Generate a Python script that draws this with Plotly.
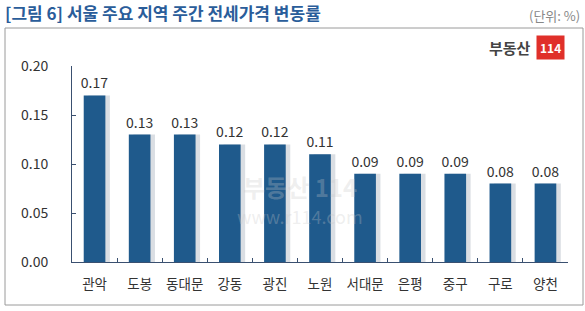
import plotly.graph_objects as go

categories = ["관악", "도봉", "동대문", "강동", "광진", "노원", "서대문", "은평", "중구", "구로", "양천"]
values = [0.17, 0.13, 0.13, 0.12, 0.12, 0.11, 0.09, 0.09, 0.09, 0.08, 0.08]
ytick_vals = [0.0, 0.05, 0.10, 0.15, 0.20]
ytick_text = ["0.00", "0.05", "0.10", "0.15", "0.20"]

FONT = "Noto Sans CJK KR, Noto Sans, sans-serif"
BAR = "#1f5a8c"

fig = go.Figure()
# soft shadow behind bars
fig.add_trace(go.Bar(
    x=categories, y=values,
    marker=dict(color="rgba(150,160,175,0.35)", line=dict(width=0)),
    width=0.48, offset=-0.24 + 0.1,
    hoverinfo="skip",
))
fig.add_trace(go.Bar(
    x=categories, y=values,
    marker=dict(color=BAR, line=dict(width=0)),
    width=0.48, offset=-0.24,
    text=[f"{v:.2f}" for v in values],
    textposition="outside",
    constraintext="none",
    textfont=dict(size=14, color="#333333", family=FONT),
    cliponaxis=False,
))

L, R, T, B = 72, 17, 66, 49
W, H = 585, 311
pw, ph = W - L - R, H - T - B

def px(x):
    return (x - L) / pw

def py(y):
    return (H - B - y) / ph

fig.update_layout(
    width=W, height=H,
    margin=dict(l=L, r=R, t=T, b=B, autoexpand=False),
    paper_bgcolor="white", plot_bgcolor="white",
    showlegend=False,
    barmode="overlay",
    font=dict(family=FONT, color="#333333"),
)
fig.update_yaxes(
    range=[0, 0.2], tickvals=ytick_vals, ticktext=ytick_text,
    showgrid=False, zeroline=False,
    showline=True, linecolor="#3a5070", linewidth=1,
    ticks="inside", ticklen=4, tickcolor="#3a5070",
    tickfont=dict(size=14, color="#333333", family=FONT),
    ticklabelstandoff=20, automargin=False,
)
fig.update_xaxes(
    showgrid=False, showline=True, linecolor="#3a5070", linewidth=1,
    ticks="inside", ticklen=4, tickcolor="#3a5070", tickson="boundaries",
    tickfont=dict(size=13.5, color="#333333", family=FONT),
    tickangle=0, automargin=False,
    ticklabelstandoff=10,
)

# frame box
fig.add_shape(type="rect", xref="paper", yref="paper",
              x0=px(5), x1=px(583), y0=py(305), y1=py(28),
              line=dict(color="#9a9a9a", width=1), layer="below")

# title
fig.add_annotation(xref="paper", yref="paper", x=px(3), y=py(13),
                   xanchor="left", yanchor="middle", showarrow=False,
                   text="<b>[그림 6] 서울 주요 지역 주간 전세가격 변동률</b>",
                   font=dict(size=17, color="#2a5d9a", family=FONT))
fig.add_annotation(xref="paper", yref="paper", x=px(582), y=py(15),
                   xanchor="right", yanchor="middle", showarrow=False,
                   text="(단위: %)",
                   font=dict(size=13, color="#888888", family=FONT))

# logo
fig.add_annotation(xref="paper", yref="paper", x=px(533), y=py(47),
                   xanchor="right", yanchor="middle", showarrow=False,
                   text="<b>부동산</b>",
                   font=dict(size=15, color="#444444", family=FONT))
fig.add_annotation(xref="paper", yref="paper", x=px(550), y=py(47),
                   xanchor="center", yanchor="middle", showarrow=False,
                   text="<b>114</b>", bgcolor="#e0302a", borderpad=3,
                   font=dict(size=12, color="white", family=FONT))

# watermark
fig.add_annotation(xref="paper", yref="paper", x=px(300), y=py(186),
                   xanchor="center", yanchor="middle", showarrow=False,
                   text="<b>부동산 114</b>",
                   font=dict(size=24, color="rgba(200,200,200,0.3)", family=FONT))
fig.add_annotation(xref="paper", yref="paper", x=px(300), y=py(216),
                   xanchor="center", yanchor="middle", showarrow=False,
                   text="www.r114.com",
                   font=dict(size=18, color="rgba(200,200,200,0.3)", family=FONT))

fig.write_html("out.html")
